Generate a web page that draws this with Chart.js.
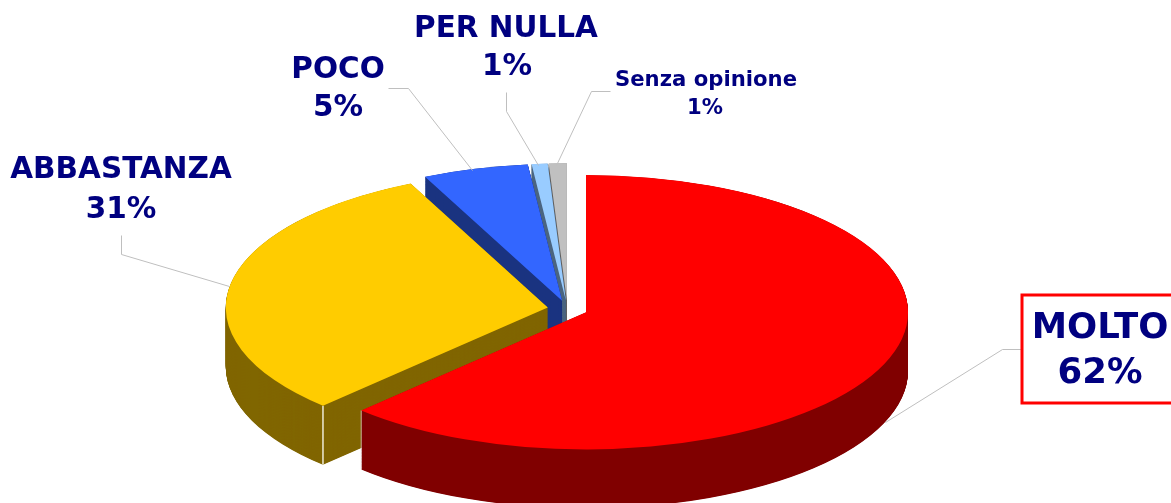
<!DOCTYPE html>
<html>
<head>
<meta charset="utf-8">
<style>html,body{margin:0;padding:0;background:#fff}canvas{display:block}</style>
<script src="https://cdn.jsdelivr.net/npm/chart.js@4"></script>
</head>
<body>
<canvas id="c" width="1171" height="503"></canvas>
<script>
const categories = ['MOLTO', 'ABBASTANZA', 'POCO', 'PER NULLA', 'Senza opinione'];
const values = [62.3, 30.7, 5.3, 0.8, 0.9];
const topColors = ['#FF0000', '#FFCC00', '#3366FF', '#99CCFF', '#C0C0C0'];
const wallColors = ['#800000', '#806600', '#1A3380', '#4D6680', '#606060'];

const RADIUS = 322, SQUASH = 0.426, DEPTH = 59, EXPLODE = 20;
const CENTER_X = 567.5, CENTER_Y = 309;

const labelStyles = [
  {size: 35.5, lines: [1100, 329, 1100, 374], leader: [[1021,349],[1002,349],[885,422]]},
  {size: 29.5, lines: [121, 170, 121, 210], leader: [[121,235],[121,254],[229,286]]},
  {size: 29.5, lines: [338, 70, 338, 108], leader: [[388,88],[408,88],[472,170]]},
  {size: 29.5, lines: [506, 29, 507, 67], leader: [[506,92],[506,111],[538,165]]},
  {size: 21.2, lines: [706, 80, 705, 108], leader: [[610,91],[591,91],[556,165]]}
];

const pie3d = {
  id: 'pie3d',
  afterDatasetUpdate(chart, args) {
    // pull each slice away from the pie centre along its own mid angle
    args.meta.data.forEach(el => {
      const mid = (el.startAngle + el.endAngle) / 2;
      el.x += Math.cos(mid) * EXPLODE;
      el.y += Math.sin(mid) * EXPLODE;
    });
  },
  beforeDatasetsDraw(chart) {
    const ctx = chart.ctx, arcs = chart.getDatasetMeta(0).data;
    const base = chart.chartArea;
    ctx.save();
    ctx.translate(CENTER_X - (base.left + base.right) / 2, CENTER_Y);
    ctx.scale(1, SQUASH);
    ctx.translate(0, -(base.top + base.bottom) / 2);
    const depth = DEPTH / SQUASH;
    for (let i = arcs.length - 1; i >= 0; i--) {
      const el = arcs[i];
      ctx.fillStyle = wallColors[i];
      for (let s = depth; s >= 0; s -= 1) {
        ctx.beginPath();
        ctx.moveTo(el.x, el.y + s);
        ctx.arc(el.x, el.y + s, el.outerRadius, el.startAngle, el.endAngle);
        ctx.closePath();
        ctx.fill();
      }
    }
    // pale highlight on the vertical corner of the yellow slice and the red slice
    [[1, 'startAngle', '#E8E2C8', 1.6], [0, 'endAngle', '#E6D6D6', 1]].forEach(([i, key, col, w]) => {
      const el = arcs[i];
      const px = el.x + el.outerRadius * Math.cos(el[key]);
      const py = el.y + el.outerRadius * Math.sin(el[key]);
      ctx.strokeStyle = col; ctx.lineWidth = w;
      ctx.beginPath(); ctx.moveTo(px, py); ctx.lineTo(px, py + depth); ctx.stroke();
    });
  },
  afterDatasetsDraw(chart) {
    const ctx = chart.ctx;
    ctx.restore();
    // leader lines
    ctx.save();
    ctx.strokeStyle = '#BFBFBF'; ctx.lineWidth = 1;
    labelStyles.forEach(s => {
      ctx.beginPath();
      s.leader.forEach((p, j) => j ? ctx.lineTo(p[0] + .5, p[1] + .5) : ctx.moveTo(p[0] + .5, p[1] + .5));
      ctx.stroke();
    });
    // box round the first label
    ctx.fillStyle = '#fff';
    ctx.fillRect(1022, 295, 160, 108);
    ctx.strokeStyle = '#FF0000'; ctx.lineWidth = 3;
    ctx.strokeRect(1022, 295, 160, 108);
    // labels
    ctx.fillStyle = '#000080';
    ctx.textAlign = 'center'; ctx.textBaseline = 'middle';
    const total = values.reduce((a, b) => a + b, 0);
    categories.forEach((name, i) => {
      const s = labelStyles[i];
      ctx.font = 'bold ' + s.size + 'px "DejaVu Sans"';
      ctx.fillText(name, s.lines[0], s.lines[1]);
      ctx.fillText(Math.round(values[i] / total * 100) + '%', s.lines[2], s.lines[3]);
    });
    ctx.restore();
  }
};

new Chart(document.getElementById('c'), {
  type: 'pie',
  data: {
    labels: categories,
    datasets: [{data: values, backgroundColor: topColors, borderWidth: 0, clip: false}]
  },
  options: {
    responsive: false,
    animation: false,
    events: [],
    radius: RADIUS,
    layout: {padding: 0},
    plugins: {legend: {display: false}, tooltip: {enabled: false}, title: {display: false}}
  },
  plugins: [pie3d]
});
</script>
</body>
</html>
